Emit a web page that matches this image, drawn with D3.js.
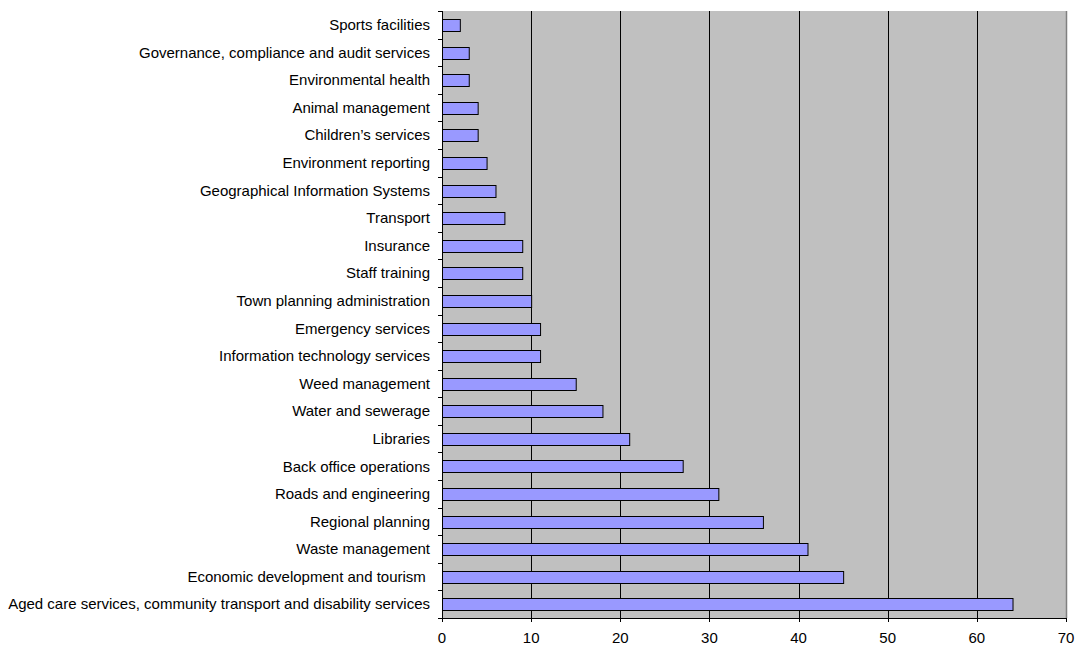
<!DOCTYPE html>
<html><head><meta charset="utf-8">
<script src="https://cdn.jsdelivr.net/npm/d3@7"></script>
<style>body{margin:0;background:#fff}svg{display:block}text{font-family:"Liberation Sans",Arial,sans-serif}</style>
</head><body><svg id="c" width="1076" height="646"></svg>
<script>
const categories = [
  "Sports facilities",
  "Governance, compliance and audit services",
  "Environmental health",
  "Animal management",
  "Children\u2019s services",
  "Environment reporting",
  "Geographical Information Systems",
  "Transport",
  "Insurance",
  "Staff training",
  "Town planning administration",
  "Emergency services",
  "Information technology services",
  "Weed management",
  "Water and sewerage",
  "Libraries",
  "Back office operations",
  "Roads and engineering",
  "Regional planning",
  "Waste management",
  "Economic development and tourism ",
  "Aged care services, community transport and disability services"
];
const values = [2,3,3,4,4,5,6,7,9,9,10,11,11,15,18,21,27,31,36,41,45,64];
const xTicks = [0,10,20,30,40,50,60,70];

const svg = d3.select("#c");
const L = 442, R = 1066, T = 11, B = 618;
const x = d3.scaleLinear().domain([0,70]).range([L,R]);
const y = d3.scaleBand().domain(categories).range([T,B]).paddingInner(0.58).paddingOuter(0.29);

svg.append("rect").attr("x",L).attr("y",T).attr("width",R-L).attr("height",B-T).attr("fill","#C0C0C0");

svg.append("g").selectAll("line").data(xTicks.filter(d=>d>0&&d<70)).join("line")
  .attr("x1",d=>Math.round(x(d))+0.5).attr("x2",d=>Math.round(x(d))+0.5)
  .attr("y1",T).attr("y2",B).attr("stroke","#000").attr("stroke-width",1);
svg.append("line").attr("x1",R+0.5).attr("x2",R+0.5).attr("y1",T).attr("y2",B).attr("stroke","#808080").attr("stroke-width",1.5);

svg.append("g").selectAll("rect").data(values).join("rect")
  .attr("x",x(0)+0.5)
  .attr("y",(d,i)=>Math.round(y(categories[i]))+0.5)
  .attr("width",d=>x(d)-x(0))
  .attr("height",Math.round(y.bandwidth()))
  .attr("fill","#9999FF").attr("stroke","#000").attr("stroke-width",1);

// y axis
const ga = svg.append("g");
ga.append("line").attr("x1",L+0.5).attr("x2",L+0.5).attr("y1",T).attr("y2",B+4).attr("stroke","#000");
const step = (B-T)/categories.length;
d3.range(categories.length+1).forEach(i=>{
  const yy = Math.round(T+i*step)+0.5;
  ga.append("line").attr("x1",L-4).attr("x2",L).attr("y1",yy).attr("y2",yy).attr("stroke","#000");
});
ga.selectAll("text").data(categories).join("text")
  .attr("x",L-12).attr("y",d=>y(d)+y.bandwidth()/2)
  .attr("dy","0.35em").attr("text-anchor","end").attr("font-size",15)
  .style("white-space","pre").attr("fill","#000").text(d=>d);

// x axis
const gx = svg.append("g");
gx.append("line").attr("x1",L).attr("x2",R+1).attr("y1",B+0.5).attr("y2",B+0.5).attr("stroke","#000");
gx.selectAll("line.t").data(xTicks).join("line").attr("class","t")
  .attr("x1",d=>Math.round(x(d))+0.5).attr("x2",d=>Math.round(x(d))+0.5)
  .attr("y1",B).attr("y2",B+4).attr("stroke","#000");
gx.selectAll("text").data(xTicks).join("text")
  .attr("x",d=>x(d)).attr("y",B+25).attr("text-anchor","middle")
  .attr("font-size",15).attr("fill","#000").text(d=>d);
</script></body></html>
